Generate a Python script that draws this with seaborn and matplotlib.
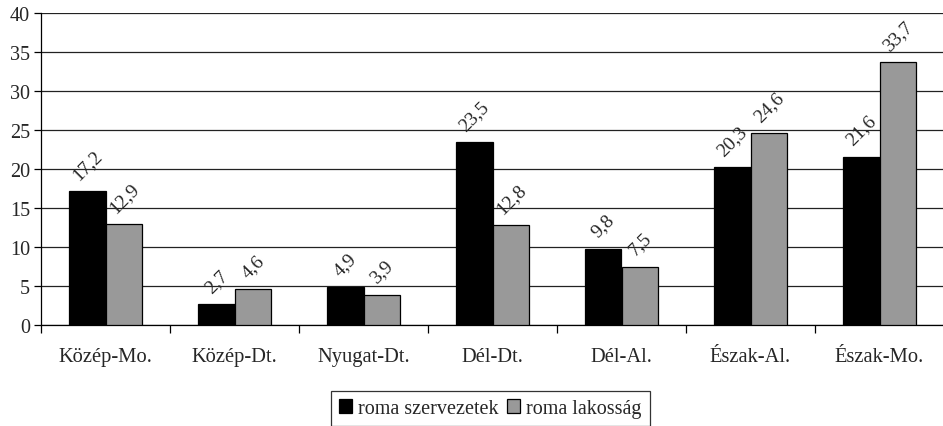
import matplotlib
matplotlib.use("Agg")
import matplotlib.pyplot as plt
import seaborn as sns
import pandas as pd
import numpy as np
from matplotlib.patches import Patch

categories = ["Közép-Mo.", "Közép-Dt.", "Nyugat-Dt.", "Dél-Dt.", "Dél-Al.", "Észak-Al.", "Észak-Mo."]
series_names = ["roma szervezetek", "roma lakosság"]
szervezetek = [17.2, 2.7, 4.9, 23.5, 9.8, 20.3, 21.6]
lakossag = [12.9, 4.6, 3.9, 12.8, 7.5, 24.6, 33.7]
colors = ["#000000", "#999999"]

df = pd.DataFrame({
    "region": categories * 2,
    "series": [series_names[0]] * len(categories) + [series_names[1]] * len(categories),
    "value": szervezetek + lakossag,
})

sns.set_theme(style="white")
plt.rcParams["font.family"] = ["Liberation Serif", "DejaVu Serif"]

fig = plt.figure(figsize=(9.43, 4.27), dpi=100)
ax = fig.add_axes([41 / 943, 101 / 427, 903 / 943, 312 / 427])

sns.barplot(data=df, x="region", y="value", hue="series", order=categories,
            hue_order=series_names, palette=colors, width=0.57, saturation=1,
            edgecolor="black", linewidth=0.9, ax=ax, legend=False, zorder=3)

ax.set_ylim(0, 40)
ax.set_xlim(-0.5, len(categories) - 0.5)
ax.set_yticks(np.arange(0, 41, 5))
ax.set_yticklabels([str(v) for v in range(0, 41, 5)], fontsize=14.5)
ax.yaxis.grid(True, color="#222222", linewidth=0.9, zorder=0)
ax.set_axisbelow(True)
ax.set_xlabel("")
ax.set_ylabel("")
for s in ["top", "right"]:
    ax.spines[s].set_visible(False)
for s in ["left", "bottom"]:
    ax.spines[s].set_color("black")
    ax.spines[s].set_linewidth(0.9)

ax.tick_params(axis="y", which="major", left=True, length=5, width=0.9, color="black", pad=3)
ax.tick_params(axis="x", which="major", bottom=False, length=0, pad=16, labelsize=14.8)
ax.set_xticks(np.arange(-0.5, len(categories) - 0.4, 1), minor=True)
ax.tick_params(axis="x", which="minor", bottom=True, length=6, width=0.9, color="black")

for cont in ax.containers:
    for bar in cont:
        h = bar.get_height()
        ax.annotate(f"{h:.1f}".replace(".", ","),
                    (bar.get_x() + bar.get_width() / 2, h),
                    xytext=(0, 6), textcoords="offset points",
                    ha="center", va="bottom", rotation=45, fontsize=14)

handles = [Patch(facecolor=c, edgecolor="black", linewidth=0.9) for c in colors]
leg = fig.legend(handles, series_names, loc="upper center",
                 bbox_to_anchor=(0.52, 1 - 392 / 427), ncol=2, fontsize=14.5,
                 frameon=True, fancybox=False, handlelength=0.65, handleheight=0.65,
                 handletextpad=0.3, columnspacing=0.4, borderpad=0.4, borderaxespad=0)
leg.get_frame().set_edgecolor("black")
leg.get_frame().set_linewidth(0.9)

fig.savefig("out.png", dpi=100)
